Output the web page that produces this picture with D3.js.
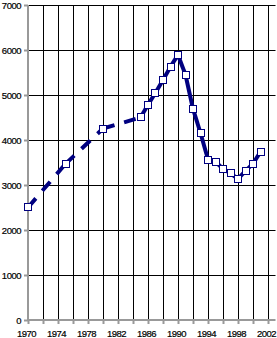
<!DOCTYPE html>
<html>
<head>
<meta charset="utf-8">
<script src="https://cdn.jsdelivr.net/npm/d3@7"></script>
<style>
  body { margin: 0; background: #fff; }
  svg text { font-family: "Liberation Sans", Arial, sans-serif; font-size: 9.5px; letter-spacing: -0.5px; fill: #000; stroke: #000; stroke-width: 0.2px; }
</style>
</head>
<body>
<svg id="my-svg"></svg>
<script>
const years = [1970, 1975, 1980, 1985, 1986, 1987, 1988, 1989, 1990, 1991, 1992, 1993,
               1994, 1995, 1996, 1997, 1998, 1999, 2000, 2001];
const values = [2500, 3470, 4255, 4500, 4785, 5050, 5335, 5630, 5890, 5450, 4690, 4155,
                3565, 3515, 3360, 3260, 3135, 3315, 3475, 3740];
const yTicks = [0, 1000, 2000, 3000, 4000, 5000, 6000, 7000];
const xGrid = d3.range(1972, 2003, 2);
const xLabels = d3.range(1970, 2003, 4);

const width = 277, height = 338;

const svg = d3.select("#my-svg")
    .attr("width", width)
    .attr("height", height);

const x = d3.scaleLinear()
    .domain([1970, 2003])
    .range([28, 275.5]);

const y = d3.scaleLinear()
    .domain([0, 7000])
    .range([320, 5]);

// grid
svg.append("g")
    .selectAll("line")
    .data(yTicks.filter(d => d > 0))
    .join("line")
    .attr("x1", x(1970)).attr("x2", x(2003))
    .attr("y1", d => Math.round(y(d)) + 0.5)
    .attr("y2", d => Math.round(y(d)) + 0.5)
    .attr("stroke", "#000");

svg.append("g")
    .selectAll("line")
    .data(xGrid)
    .join("line")
    .attr("x1", d => Math.round(x(d)) + 0.5)
    .attr("x2", d => Math.round(x(d)) + 0.5)
    .attr("y1", y(7000)).attr("y2", y(0))
    .attr("stroke", "#000");

// axes (gray)
const gray = "#999";
svg.append("line")
    .attr("x1", x(1970)).attr("x2", x(1970))
    .attr("y1", y(7000)).attr("y2", y(0) + 1)
    .attr("stroke", gray).attr("stroke-width", 2);
svg.append("line")
    .attr("x1", x(1970) - 1).attr("x2", x(2003))
    .attr("y1", y(0)).attr("y2", y(0))
    .attr("stroke", gray).attr("stroke-width", 2);

svg.append("g")
    .selectAll("line")
    .data(yTicks)
    .join("line")
    .attr("x1", x(1970) - 4).attr("x2", x(1970))
    .attr("y1", d => Math.round(y(d)) + 0.5)
    .attr("y2", d => Math.round(y(d)) + 0.5)
    .attr("stroke", gray).attr("stroke-width", 2);

svg.append("g")
    .selectAll("line")
    .data([1970].concat(xGrid))
    .join("line")
    .attr("x1", d => Math.round(x(d)) + 0.5)
    .attr("x2", d => Math.round(x(d)) + 0.5)
    .attr("y1", y(0)).attr("y2", y(0) + 4)
    .attr("stroke", gray).attr("stroke-width", 2);

svg.append("g")
    .selectAll("text")
    .data(yTicks)
    .join("text")
    .attr("x", 21)
    .attr("y", d => y(d) + 3.5)
    .attr("text-anchor", "end")
    .text(d => d);

svg.append("g")
    .selectAll("text")
    .data(xLabels)
    .join("text")
    .attr("x", d => x(d) - 1.5)
    .attr("y", 337)
    .attr("text-anchor", "middle")
    .text(d => d);

// line: the 5-year gaps are dashed (pattern restarts at each point), yearly steps solid
const pts = years.map((yr, i) => [x(yr), y(values[i]), yr]);
svg.append("g")
    .selectAll("line")
    .data(d3.pairs(pts))
    .join("line")
    .attr("x1", d => d[0][0]).attr("y1", d => d[0][1])
    .attr("x2", d => d[1][0]).attr("y2", d => d[1][1])
    .attr("stroke", "#000080")
    .attr("stroke-width", 4)
    .attr("stroke-dasharray", d => d[1][2] - d[0][2] > 1 ? "12,10" : null);

// markers
svg.append("g")
    .selectAll("rect")
    .data(pts)
    .join("rect")
    .attr("x", d => Math.round(d[0]) - 3.5)
    .attr("y", d => Math.round(d[1]) - 3.5)
    .attr("width", 7)
    .attr("height", 7)
    .attr("fill", "#fff")
    .attr("stroke", "#000080")
    .attr("stroke-width", 1);
</script>
</body>
</html>
